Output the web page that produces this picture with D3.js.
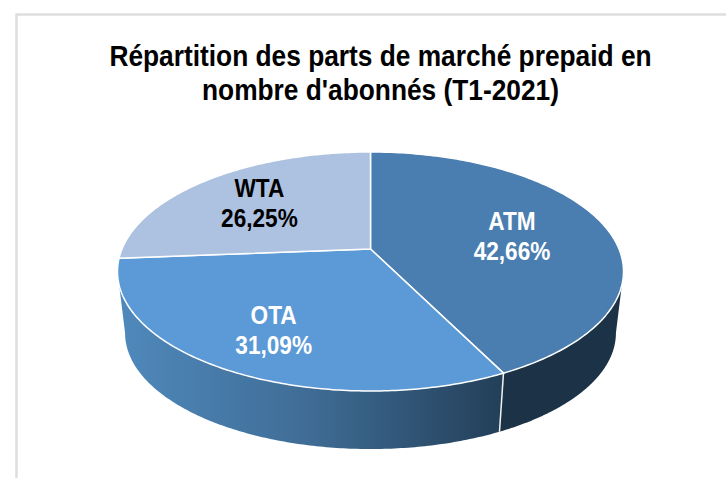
<!DOCTYPE html>
<html><head><meta charset="utf-8">
<script src="https://cdn.jsdelivr.net/npm/d3@7"></script>
<style>html,body{margin:0;padding:0;background:#fff}svg{display:block}</style>
</head><body><div id="chart"></div>
<script>
const categories = ["ATM", "OTA", "WTA"];
const shares = [42.66, 31.09, 26.25];
const valueLabels = ["42,66%", "31,09%", "26,25%"];
const titleLines = ["Répartition des parts de marché prepaid en", "nombre d'abonnés (T1-2021)"];
const topColors = ["#4a7eb0", "#5b9ad6", "#adc2e0"];
const labelColors = ["#fff", "#fff", "#000"];
const labelRadius = [0.6, 0.7, 0.66];

const W = 726, H = 478;
const svg = d3.select("#chart").append("svg").attr("width", W).attr("height", H);

// Projective mapping of a tilted disc, so the hub sits above the ellipse centre
const cx = 370.5, cy = 249, ax = 248.5, by = 115.3, k = 0.188;
const project = (theta, r = 1, depth = 0) => {
  const u = r * Math.sin(theta), v = -r * Math.cos(theta), den = 1 - k * v;
  const s = 1 - 0.03 * depth;
  return [cx + s * ax * u / den, cy + 62.3 * depth + s * by * v / den];
};

const pie = d3.pie().sort(null).value(d => d)(shares);
const line = d3.line();
const steps = (a, b, n = 160) => d3.range(n + 1).map(i => a + (b - a) * i / n);

// Side gradient
const defs = svg.append("defs");
const grad = defs.append("linearGradient").attr("id", "sideOTA")
  .attr("gradientUnits", "userSpaceOnUse")
  .attr("x1", 118).attr("x2", 503).attr("y1", 0).attr("y2", 0);
grad.append("stop").attr("offset", 0).attr("stop-color", "#4f89bc");
grad.append("stop").attr("offset", 0.5).attr("stop-color", "#3f6c95");
grad.append("stop").attr("offset", 1).attr("stop-color", "#233f58");

// Chart frame
svg.append("path").attr("d", "M16.5 478V14.5H726").attr("fill", "none")
  .attr("stroke", "#dedede").attr("stroke-width", 2.5);

// Walls: only the front of the disc shows, between the two silhouette angles
const visStart = Math.PI - Math.acos(k), visEnd = Math.PI + Math.acos(k);
const wallFill = ["#1c3247", "url(#sideOTA)", "#4f89bc"];
const walls = svg.append("g");
pie.forEach((p, i) => {
  const a = Math.max(p.startAngle, visStart), b = Math.min(p.endAngle, visEnd);
  if (b <= a) return;
  const th = steps(a, b);
  walls.append("path")
    .attr("d", line([...th.map(t => project(t)), ...th.slice().reverse().map(t => project(t, 1, 1))]) + "Z")
    .attr("fill", wallFill[i]);
});
// Wall divider between ATM and OTA
walls.append("path").attr("d", line([project(pie[0].endAngle), project(pie[0].endAngle, 1, 1)]))
  .attr("stroke", "#f2f2f2").attr("stroke-width", 1.5).attr("fill", "none");

// Top faces
svg.append("g").selectAll("path").data(pie).join("path")
  .attr("d", p => line([[cx, cy], ...steps(p.startAngle, p.endAngle).map(t => project(t))]) + "Z")
  .attr("fill", (p, i) => topColors[i])
  .attr("stroke", "#fff").attr("stroke-width", 1.5).attr("stroke-linejoin", "round");

const fontCSS = "'Liberation Sans', Arial, sans-serif";
// Title
const title = svg.append("g").attr("font-family", fontCSS).attr("font-weight", 700).attr("fill", "#000").attr("font-size", 30);
title.selectAll("text").data(titleLines).join("text")
  .attr("transform", (d, i) => `translate(380.5,${[66, 100][i]}) scale(0.877,1)`)
  .attr("text-anchor", "middle").text(d => d);

// Labels
pie.forEach((p, i) => {
  const [x, y] = project((p.startAngle + p.endAngle) / 2, labelRadius[i]);
  const g = svg.append("g").attr("font-family", fontCSS).attr("font-weight", 700)
    .attr("font-size", 26).attr("fill", labelColors[i]).attr("text-anchor", "middle");
  g.append("text").attr("transform", `translate(${x},${y - 4}) scale(0.87,1)`).text(categories[i]);
  g.append("text").attr("transform", `translate(${x},${y + 26}) scale(0.87,1)`).text(valueLabels[i]);
});
</script></body></html>
